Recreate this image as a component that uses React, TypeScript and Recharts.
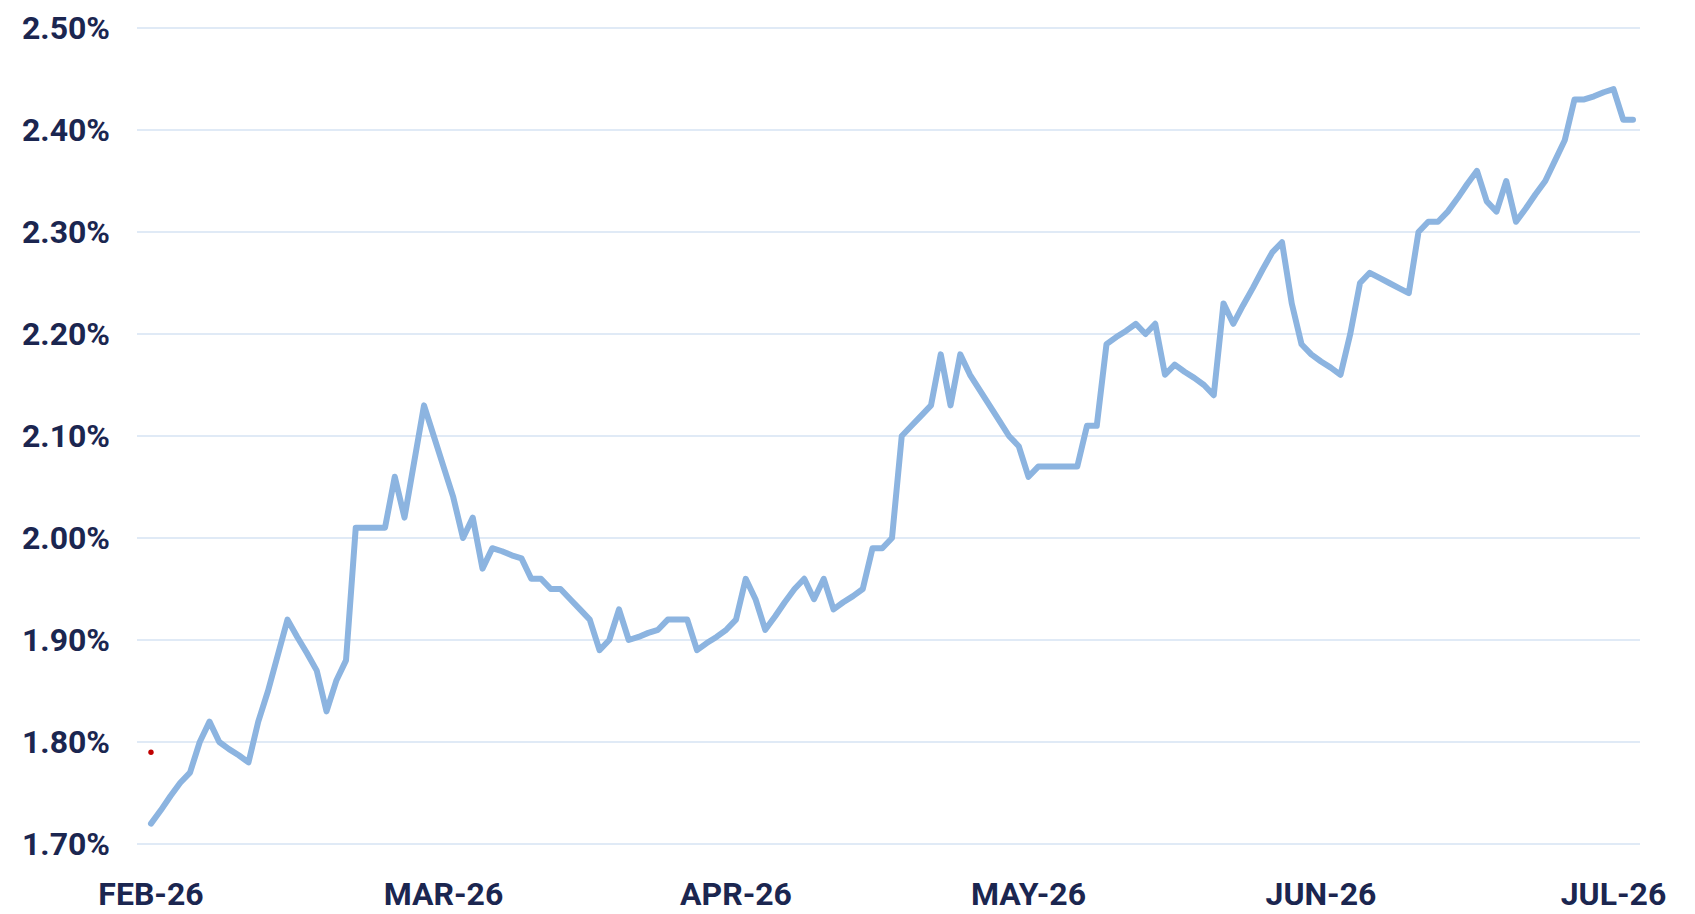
import { LineChart, Line, XAxis, YAxis, CartesianGrid } from "recharts";

// daily yield readings, 1 Feb 2026 onward (one value per day)
const yieldValues = [
  1.72, 1.733, 1.747, 1.76, 1.77, 1.8, 1.82, 1.8, 1.793, 1.787,
  1.78, 1.82, 1.85, 1.885, 1.92, 1.903, 1.887, 1.87, 1.83, 1.86,
  1.88, 2.01, 2.01, 2.01, 2.01, 2.06, 2.02, 2.075, 2.13, 2.1,
  2.07, 2.04, 2.0, 2.02, 1.97, 1.99, 1.987, 1.983, 1.98, 1.96,
  1.96, 1.95, 1.95, 1.94, 1.93, 1.92, 1.89, 1.9, 1.93, 1.9,
  1.903, 1.907, 1.91, 1.92, 1.92, 1.92, 1.89, 1.897, 1.903, 1.91,
  1.92, 1.96, 1.94, 1.91, 1.923, 1.937, 1.95, 1.96, 1.94, 1.96,
  1.93, 1.937, 1.943, 1.95, 1.99, 1.99, 2.0, 2.1, 2.11, 2.12,
  2.13, 2.18, 2.13, 2.18, 2.16, 2.145, 2.13, 2.115, 2.1, 2.09,
  2.06, 2.07, 2.07, 2.07, 2.07, 2.07, 2.11, 2.11, 2.19, 2.197,
  2.203, 2.21, 2.2, 2.21, 2.16, 2.17, 2.163, 2.157, 2.15, 2.14,
  2.23, 2.21, 2.228, 2.245, 2.263, 2.28, 2.29, 2.23, 2.19, 2.18,
  2.173, 2.167, 2.16, 2.2, 2.25, 2.26, 2.255, 2.25, 2.245, 2.24,
  2.3, 2.31, 2.31, 2.32, 2.333, 2.347, 2.36, 2.33, 2.32, 2.35,
  2.31, 2.323, 2.337, 2.35, 2.37, 2.39, 2.43, 2.43, 2.433, 2.437,
  2.44, 2.41, 2.41,
];

// single red reference point drawn on the first day
const markerValues = [1.79];

const monthLabels = ["FEB-26", "MAR-26", "APR-26", "MAY-26", "JUN-26", "JUL-26"];
const labelEvery = 30;

const yTicks = [1.7, 1.8, 1.9, 2.0, 2.1, 2.2, 2.3, 2.4, 2.5];

const data = yieldValues.map((v, i) => ({
  day: i,
  value: v,
  marker: i < markerValues.length ? markerValues[i] : null,
}));

const xTicks = monthLabels.map((_, i) => i * labelEvery);

const tickStyle = { fontSize: 32, fontWeight: 700, fill: "#1b2650", fontFamily: "Roboto, sans-serif" };

export default function App() {
  return (
    <div style={{ position: "absolute", left: 0, top: 0 }}>
      <LineChart width={1695} height={914} data={data} margin={{ top: 28, right: 55, left: 0, bottom: 0 }}>
        <CartesianGrid vertical={false} stroke="#e0eaf6" strokeWidth={2} />
        <XAxis
          dataKey="day"
          type="category"
          ticks={xTicks}
          interval={0}
          tickFormatter={(d) => monthLabels[Math.round(d / labelEvery)]}
          axisLine={false}
          tickLine={false}
          tickSize={0}
          tickMargin={38}
          height={70}
          padding={{ left: 14, right: 7 }}
          tick={tickStyle}
        />
        <YAxis
          type="number"
          domain={[1.7, 2.5]}
          ticks={yTicks}
          interval={0}
          tickFormatter={(v) => v.toFixed(2) + "%"}
          axisLine={false}
          tickLine={false}
          tickSize={0}
          tickMargin={27}
          width={137}
          tick={tickStyle}
        />
        <Line
          dataKey="value"
          stroke="#8cb4e0"
          strokeWidth={6}
          strokeLinejoin="round"
          strokeLinecap="round"
          dot={false}
          activeDot={false}
          isAnimationActive={false}
        />
        <Line
          dataKey="marker"
          stroke="none"
          dot={{ r: 2.7, fill: "#c00000", stroke: "none" }}
          activeDot={false}
          isAnimationActive={false}
        />
      </LineChart>
    </div>
  );
}
